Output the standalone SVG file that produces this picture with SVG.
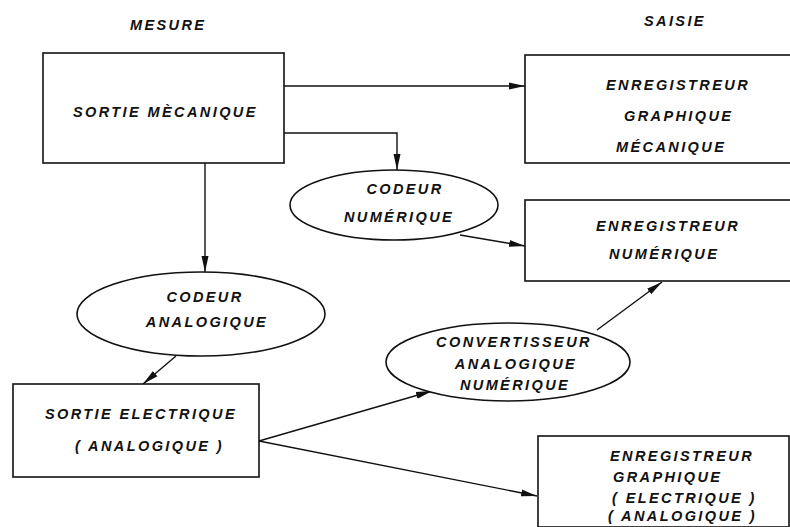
<svg xmlns="http://www.w3.org/2000/svg" width="790" height="527" viewBox="0 0 790 527">
<defs>
<style>
.box{fill:#fff;stroke:#111;stroke-width:1.6}
.t{font-family:"Liberation Sans",Arial,sans-serif;font-style:italic;font-weight:bold;font-size:14.5px;letter-spacing:2.4px;fill:#111}
.c{stroke:#111;stroke-width:1.4;fill:none}
</style>
<marker id="ah" viewBox="0 0 16 9" refX="16" refY="4.5" markerWidth="16" markerHeight="9" markerUnits="userSpaceOnUse" orient="auto">
<path d="M0,1 L16,4.5 L0,8 Z" fill="#111"/>
</marker>
</defs>
<rect width="790" height="527" fill="#fff"/>
<text class="t" x="130" y="30">MESURE</text>
<text class="t" x="644" y="26">SAISIE</text>
<g id="connectors">
<path class="c" d="M284,86 H525" marker-end="url(#ah)"/>
<path class="c" d="M284,133 H397 V170" marker-end="url(#ah)"/>
<path class="c" d="M205,163 V272" marker-end="url(#ah)"/>
<path class="c" d="M460,235 L525,246" marker-end="url(#ah)"/>
<path class="c" d="M176,356 L143,384" marker-end="url(#ah)"/>
<path class="c" d="M259,441 L432,391" marker-end="url(#ah)"/>
<path class="c" d="M259,441 L537,496" marker-end="url(#ah)"/>
<path class="c" d="M597,330 L662,282" marker-end="url(#ah)"/>
</g>
<g id="sortie-mecanique">
<rect class="box" x="43" y="53" width="241" height="110"/>
<text class="t" x="73" y="117">SORTIE MÈCANIQUE</text>
</g>
<g id="enreg-graph-meca">
<rect class="box" x="525" y="55" width="270" height="108"/>
<text class="t" x="606" y="90">ENREGISTREUR</text>
<text class="t" x="624" y="121">GRAPHIQUE</text>
<text class="t" x="616" y="152">MÉCANIQUE</text>
</g>
<g id="codeur-numerique">
<ellipse class="box" cx="394" cy="205" rx="104" ry="35"/>
<text class="t" x="405" y="194" text-anchor="middle">CODEUR</text>
<text class="t" x="399" y="222" text-anchor="middle">NUMÉRIQUE</text>
</g>
<g id="enreg-numerique">
<rect class="box" x="525" y="200" width="270" height="81"/>
<text class="t" x="596" y="231">ENREGISTREUR</text>
<text class="t" x="609" y="259">NUMÉRIQUE</text>
</g>
<g id="codeur-analogique">
<ellipse class="box" cx="201" cy="314" rx="124" ry="42"/>
<text class="t" x="205" y="302" text-anchor="middle">CODEUR</text>
<text class="t" x="207" y="327" text-anchor="middle">ANALOGIQUE</text>
</g>
<g id="sortie-electrique">
<rect class="box" x="13" y="384" width="246" height="93"/>
<text class="t" x="45" y="419">SORTIE ELECTRIQUE</text>
<text class="t" x="75" y="451">( ANALOGIQUE )</text>
</g>
<g id="convertisseur">
<ellipse class="box" cx="508" cy="362" rx="122" ry="39"/>
<text class="t" x="514" y="347" text-anchor="middle">CONVERTISSEUR</text>
<text class="t" x="516" y="369" text-anchor="middle">ANALOGIQUE</text>
<text class="t" x="515" y="390" text-anchor="middle">NUMÉRIQUE</text>
</g>
<g id="enreg-graph-elec">
<rect class="box" x="538" y="436" width="251" height="91"/>
<text class="t" x="610" y="461">ENREGISTREUR</text>
<text class="t" x="613" y="482">GRAPHIQUE</text>
<text class="t" x="612" y="503">( ELECTRIQUE )</text>
<text class="t" x="608" y="521">( ANALOGIQUE )</text>
</g>
</svg>
